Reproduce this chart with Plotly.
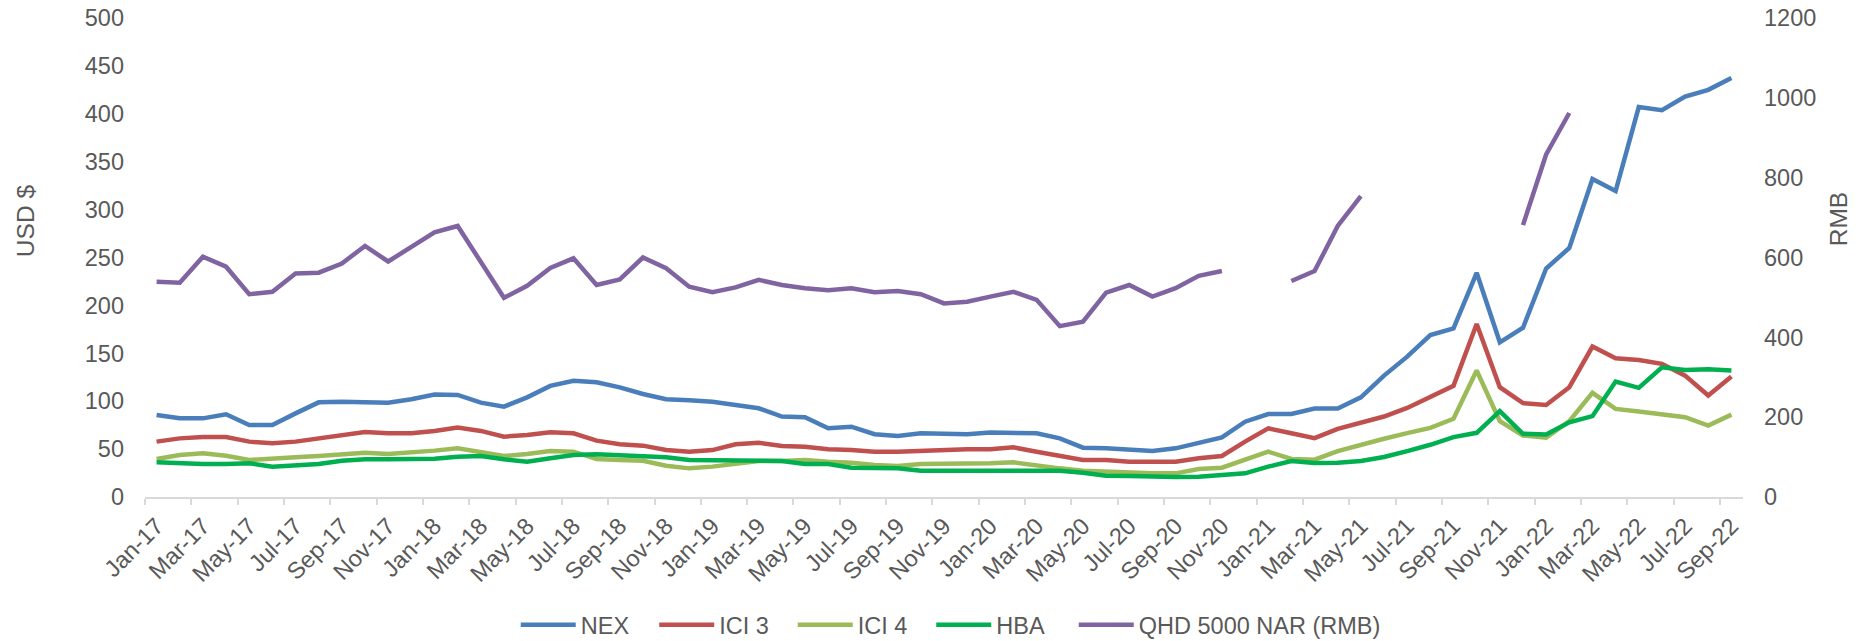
import plotly.graph_objects as go

# Monthly categories, Jan-17 .. Sep-22
month_abbr = ["Jan", "Feb", "Mar", "Apr", "May", "Jun",
              "Jul", "Aug", "Sep", "Oct", "Nov", "Dec"]
months = [f"{m}-{y}" for y in range(17, 23) for m in month_abbr][:69]
idx = list(range(len(months)))

# Prices, USD/t
nex = [85.6, 82.1, 82.1, 86.3, 75.2, 75.2, 87.3, 98.8, 99.5, 98.5, 98.5, 102.0,
       107.0, 106.5, 98.5, 94.3, 104.0, 116.0, 121.4, 119.7, 114.5, 107.5, 102.0, 101.0,
       99.5, 96.0, 92.6, 83.9, 83.2, 71.7, 73.4, 65.5, 63.7, 66.5, 65.4, 65.4,
       67.2, 67.2, 66.5, 61.2, 51.5, 50.8, 49.0, 48.0, 50.8, 56.0, 62.3, 78.6,
       86.6, 86.6, 92.4, 92.4, 104.0, 126.7, 146.5, 169.0, 176.0, 234.0, 161.5, 176.7,
       238.5, 260.0, 332.0, 319.4, 407.0, 403.8, 418.0, 425.0, 437.5]

ici3 = [57.8, 61.2, 62.6, 62.6, 57.8, 56.0, 57.8, 61.2, 64.7, 67.8, 66.5, 66.5,
        69.0, 72.4, 69.0, 63.0, 64.7, 67.5, 66.5, 58.8, 55.0, 53.6, 49.0, 47.3,
        49.0, 55.0, 56.7, 53.2, 52.5, 49.8, 49.0, 47.3, 47.3, 48.4, 49.0, 49.8,
        49.8, 51.8, 47.3, 42.8, 38.6, 38.6, 36.9, 36.9, 36.9, 40.4, 42.8, 57.8,
        71.7, 66.5, 61.5, 71.2, 78.0, 84.0, 93.0, 104.0, 116.0, 180.5, 114.6, 98.0,
        96.0, 114.6, 157.0, 144.8, 143.0, 139.0, 126.7, 106.0, 125.7]

ici4 = [39.7, 43.8, 45.6, 43.1, 38.6, 40.4, 41.4, 42.8, 44.5, 46.3, 44.9, 46.3,
        48.4, 50.8, 47.3, 42.8, 44.9, 48.0, 47.3, 39.7, 38.6, 37.9, 32.7, 29.9,
        31.7, 34.4, 37.6, 37.6, 38.6, 36.9, 35.8, 33.4, 32.4, 34.4, 34.4, 34.4,
        35.1, 36.2, 32.7, 29.9, 27.5, 26.4, 25.4, 24.7, 24.7, 29.2, 30.6, 39.3,
        47.3, 39.7, 39.0, 47.9, 54.9, 60.8, 66.7, 72.2, 81.6, 132.0, 79.2, 64.2,
        61.8, 79.2, 108.7, 92.0, 89.2, 86.8, 83.3, 74.6, 86.0]

hba = [36.2, 35.1, 34.4, 34.4, 35.1, 31.7, 32.7, 34.4, 37.9, 39.3, 39.3, 39.3,
       40.0, 42.0, 42.8, 39.3, 36.9, 40.4, 43.8, 44.5, 43.8, 42.8, 41.4, 38.6,
       38.6, 37.9, 37.9, 37.6, 34.4, 34.4, 30.6, 30.6, 29.9, 27.5, 27.1, 27.5,
       27.5, 27.8, 27.8, 27.5, 25.4, 22.3, 21.9, 21.2, 20.9, 21.2, 23.0, 24.7,
       31.7, 37.6, 35.5, 35.8, 37.5, 41.7, 47.9, 54.5, 62.5, 67.0, 89.6, 66.0,
       65.3, 78.0, 84.4, 120.5, 113.9, 135.4, 132.6, 133.3, 132.0]

# Domestic price, RMB/t (missing months left empty)
qhd = [539, 537, 602, 577, 508, 514, 560, 562, 585, 629, 590, 625,
       663, 679, 589, 499, 529, 574, 598, 531, 545, 600, 573, 527,
       513, 525, 544, 531, 523, 518, 523, 513, 516, 508, 485, 489,
       502, 514, 494, 428, 439, 512, 531, 502, 523, 554, 566, None,
       None, 541, 566, 679, 754, None, None, None, None, None, None, 681,
       858, 962, None, None, None, None, None, None, None]

series = [
    ("NEX", nex, "#4A7EBB", "y", "legend"),
    ("ICI 3", ici3, "#C0504D", "y", "legend"),
    ("ICI 4", ici4, "#9BBB59", "y", "legend"),
    ("HBA", hba, "#00B050", "y", "legend"),
    ("QHD 5000 NAR (RMB)", qhd, "#8064A2", "y2", "legend2"),
]

FONT = "Liberation Sans, Arial, sans-serif"
GREY = "#595959"

fig = go.Figure()
for name, vals, color, axis, leg in series:
    fig.add_trace(go.Scatter(
        x=idx, y=vals, name=name, mode="lines", yaxis=axis,
        connectgaps=False, legend=leg,
        line=dict(color=color, width=4.5),
    ))

legend_style = dict(
    orientation="h", xanchor="left", y=-0.267, yanchor="middle",
    font=dict(family=FONT, size=23.5, color=GREY),
    itemwidth=55, bgcolor="rgba(0,0,0,0)",
)

label_pos = idx[::2]
fig.update_layout(
    width=1865, height=641,
    margin=dict(l=145, r=122, t=18, b=144, autoexpand=False),
    paper_bgcolor="white", plot_bgcolor="white",
    font=dict(family=FONT, size=23.5, color=GREY),
    showlegend=True,
    legend=dict(x=0.232, entrywidth=68.5, **legend_style),
    legend2=dict(x=0.5812, **legend_style),
    xaxis=dict(
        range=[-0.5, len(months) - 0.5],
        tickmode="array", tickvals=label_pos,
        ticktext=[months[i] for i in label_pos],
        tickangle=-45, ticks="", automargin=False,
        ticklabelstandoff=4,
        showline=True, linecolor="#D9D9D9", linewidth=2,
        showgrid=False, zeroline=False,
        tickfont=dict(family=FONT, size=23.5, color=GREY),
        minor=dict(tickmode="array", tickvals=[i - 0.5 for i in label_pos],
                   ticks="outside", ticklen=6, tickwidth=1.5,
                   tickcolor="#D9D9D9", showgrid=False),
    ),
    yaxis=dict(
        range=[0, 500], tick0=0, dtick=50, automargin=False,
        showgrid=False, zeroline=False, showline=False, ticks="",
        tickfont=dict(family=FONT, size=23.5, color=GREY),
        ticklabelstandoff=20,
    ),
    yaxis2=dict(
        range=[0, 1200], tick0=0, dtick=200, automargin=False,
        overlaying="y", side="right",
        showgrid=False, zeroline=False, showline=False, ticks="",
        tickfont=dict(family=FONT, size=23.5, color=GREY),
        ticklabelstandoff=20,
    ),
    annotations=[
        dict(text="USD $", xref="paper", yref="paper", x=-0.0751, y=0.578,
             xanchor="center", yanchor="middle", textangle=-90, showarrow=False,
             font=dict(family=FONT, size=24.5, color=GREY)),
        dict(text="RMB", xref="paper", yref="paper", x=1.0595, y=0.580,
             xanchor="center", yanchor="middle", textangle=-90, showarrow=False,
             font=dict(family=FONT, size=24.5, color=GREY)),
    ],
)

fig.write_html("out.html")
